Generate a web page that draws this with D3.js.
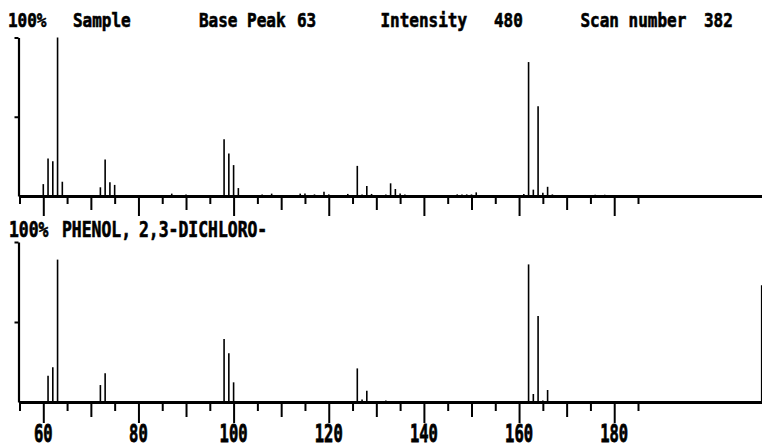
<!DOCTYPE html>
<html><head><meta charset="utf-8">
<script src="https://cdn.jsdelivr.net/npm/d3@7"></script>
<style>body{margin:0;background:#fff}svg{display:block}</style>
</head><body><svg id="c" width="762" height="448"></svg>
<script>
// ---- data ----
const sampleMz  = [60,61,62,63,64,72,73,74,75,87,90,98,99,100,101,106,108,114,115,117,119,120,124,126,127,128,129,132,133,134,135,136,147,148,149,150,151,161,162,163,164,165,166,167,176,178];
const sampleInt = [7.5,23.7,22,100,9,5.5,23,8.6,7,1.5,1,35.8,26.8,19.5,5,1,1.5,1.5,1.5,1,2.7,1,1.3,19,1,6.3,1.3,1,8,4.4,1.5,1,1,1,1,1,2.3,1.3,84.5,4,56.6,2,5.8,1,0.8,0.8];
const libraryMz  = [61,62,63,72,73,98,99,100,126,127,128,132,162,163,164,165,166,211];
const libraryInt = [16.4,21.7,89,10.6,18,39.4,30.4,12.3,21,1.5,7,1,86,5,53.8,1,7.5,73];
const axisTicks  = [55,60,65,70,75,80,85,90,95,100,105,110,115,120,125,130,135,140,145,150,155,160,165,170,175,180,185];
const tickLabels = [60,80,100,120,140,160,180];
const headerTexts  = ["100%","Sample","Base Peak","63","Intensity","480","Scan number","382"];
const libraryTexts = ["100%","PHENOL,","2,3-DICHLORO-"];

// ---- layout ----
const headerX  = [8,73,199,297,380.5,494,580.5,704];
const libraryX = [9,62,139];

const svg = d3.select("#c");
const x = d3.scaleLinear().domain([55,211]).range([19.5,761.7]);
const panels = [
  {mz: sampleMz, val: sampleInt, y: d3.scaleLinear().domain([0,100]).range([196,37.5]), labels:false},
  {mz: libraryMz, val: libraryInt, y: d3.scaleLinear().domain([0,100]).range([402,242]), labels:true}
];
const tickLen = v => v % 20 === 0 ? 20 : (v % 10 === 0 ? 14 : 8);
const font = "'DejaVu Sans Mono', monospace";

function drawTexts(texts, xs, baseY, size, sy) {
  svg.append("g").selectAll("text").data(texts).join("text")
    .attr("transform", (d,i) => `translate(${xs[i]},${baseY}) scale(1,${sy})`)
    .attr("font-family", font).attr("font-weight","bold").attr("font-size", size)
    .attr("fill","#000").attr("stroke","#000").attr("stroke-width",0.5)
    .text(d => d);
}
drawTexts(headerTexts, headerX, 27, 16, 1.2);
drawTexts(libraryTexts, libraryX, 237, 16.4, 1.3);

panels.forEach(p => {
  const base = p.y(0);
  // x axis
  const gx = svg.append("g").attr("transform", `translate(0,${base})`)
    .call(d3.axisBottom(x).tickValues(axisTicks).tickSizeOuter(0).tickFormat(""));
  gx.select(".domain").attr("stroke","#000").attr("stroke-width",3);
  gx.selectAll(".tick line").attr("stroke","#000").attr("stroke-width",2)
    .attr("y2", d => tickLen(d) + (p.labels ? 1 : 0));
  gx.selectAll(".tick text").remove();
  if (p.labels) {
    svg.append("g").selectAll("text").data(tickLabels).join("text")
      .attr("transform", d => `translate(${x(d)},442) scale(1,1.6)`)
      .attr("text-anchor","middle")
      .attr("font-family", font).attr("font-weight","bold").attr("font-size", 15.5)
      .attr("fill","#000").attr("stroke","#000").attr("stroke-width",0.5)
      .text(d => d);
  }
  // y axis
  const gy = svg.append("g").attr("transform", "translate(18.5,0)")
    .call(d3.axisLeft(p.y).tickValues([50,100]).tickSize(4).tickSizeOuter(0).tickFormat(""));
  gy.select(".domain").attr("stroke","#000").attr("stroke-width",2.2);
  gy.selectAll(".tick line").attr("stroke","#000").attr("stroke-width",2);
  // peaks
  svg.append("g").selectAll("line").data(p.mz.map((m,i) => [m, p.val[i]])).join("line")
    .attr("x1", d => x(d[0])).attr("x2", d => x(d[0]))
    .attr("y1", base).attr("y2", d => p.y(d[1]))
    .attr("stroke","#000").attr("stroke-width",1.6);
});
</script></body></html>
